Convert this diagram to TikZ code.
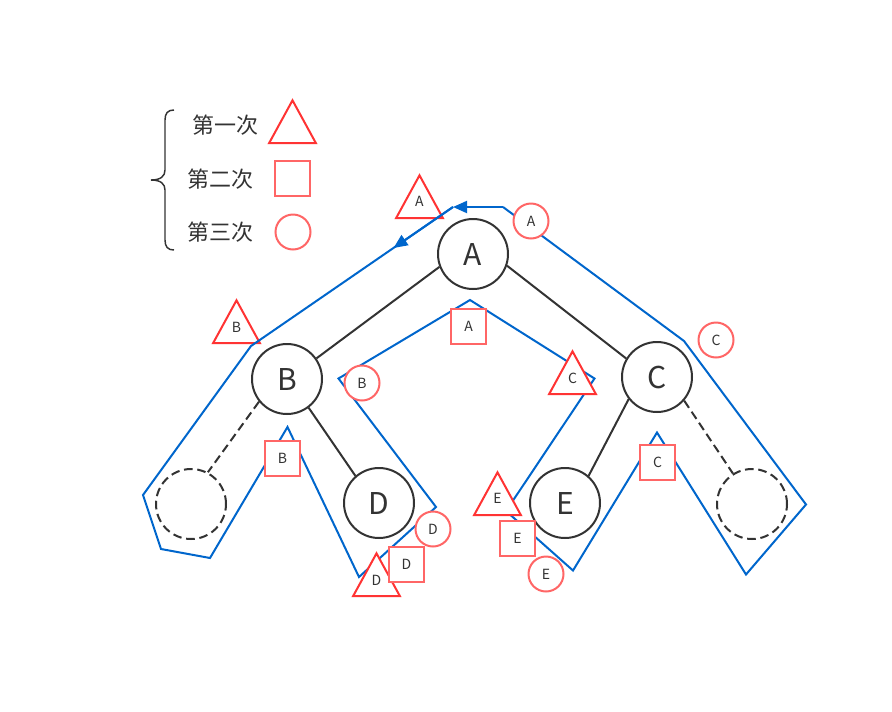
\documentclass[tikz,border=0pt]{standalone}
\usepackage{fontspec}
\setmainfont{Noto Sans CJK SC}
\usepackage{xcolor}
\usetikzlibrary{shapes.geometric, arrows.meta}
\definecolor{treegray}{HTML}{333333}
\definecolor{traceblue}{HTML}{0066CC}
\definecolor{firstred}{HTML}{FF3333}
\definecolor{laterred}{HTML}{FF6666}
\begin{document}
\begin{tikzpicture}[
    x=0.75pt, y=-0.75pt,
    treenode/.style={circle, draw=treegray, line width=1.5pt, fill=white, minimum size=52.5pt, inner sep=0pt, text=treegray, font=\fontsize{22.5}{24}\selectfont},
    nullnode/.style={treenode, dashed, dash pattern=on 6.5pt off 3.5pt},
    edge/.style={draw=treegray, line width=1.5pt},
    nulledge/.style={edge, dash pattern=on 6.5pt off 3.5pt},
    trace/.style={draw=traceblue, line width=1.5pt, line join=miter},
    tracearrow/.style={trace, -{Triangle[length=10.5pt, width=9pt]}},
    firstvisit/.style={isosceles triangle, isosceles triangle apex angle=57, isosceles triangle stretches, shape border rotate=90, draw=firstred, line width=1.5pt, fill=white, minimum width=35pt, minimum height=32pt, inner sep=0pt, anchor=lower side, text=treegray, text depth=3.5pt, font=\fontsize{10.5}{12}\selectfont},
    secondvisit/.style={rectangle, draw=laterred, line width=1.5pt, fill=white, minimum size=26.25pt, inner sep=0pt, text=treegray, font=\fontsize{10.5}{12}\selectfont},
    thirdvisit/.style={circle, draw=laterred, line width=1.5pt, fill=white, minimum size=26.25pt, inner sep=0pt, text=treegray, font=\fontsize{10.5}{12}\selectfont},
    legendtext/.style={text=treegray, font=\fontsize{16.5}{18}\selectfont}
]
\useasboundingbox (0,0) rectangle (892,711);

% Legend
\draw[treegray, line width=1.1pt] (174,110) .. controls (168,110) and (165,113) .. (165,120) -- (165,170) .. controls (165,176) and (161,180) .. (151,180) .. controls (161,180) and (165,184) .. (165,190) -- (165,240) .. controls (165,247) and (168,250) .. (174,250);
\node[legendtext] (firstlabel) at (225,125) {第一次};
\node[legendtext] (secondlabel) at (220,179) {第二次};
\node[legendtext] (thirdlabel) at (220,232) {第三次};
\node[firstvisit] (firstkey) at (292.5,144) {};
\node[secondvisit] (secondkey) at (292.5,178.5) {};
\node[thirdvisit] (thirdkey) at (293,232) {};

% First visits under the trace
\node[firstvisit] (firsta) at (419.5,219) {A};
\node[firstvisit] (firstb) at (236.5,344) {B};

% Trace corners
\coordinate (t1) at (503,207);
\coordinate (t2) at (453,207);
\coordinate (t3) at (393.5,248);
\coordinate (t4) at (251,346);
\coordinate (t5) at (143,495);
\coordinate (t6) at (161,549);
\coordinate (t7) at (210,558);
\coordinate (t8) at (287.5,427);
\coordinate (t9) at (359,577);
\coordinate (t10) at (436,507);
\coordinate (t11) at (338.5,378.5);
\coordinate (t12) at (470,300);
\coordinate (t13) at (594.5,378.5);
\coordinate (t14) at (506,511);
\coordinate (t15) at (573,570.5);
\coordinate (t16) at (657,432.5);
\coordinate (t17) at (746,574.5);
\coordinate (t18) at (806,504.5);
\coordinate (t19) at (684,341);

% Trace
\draw[trace] (t2) -- (t4) -- (t5) -- (t6) -- (t7) -- (t8) -- (t9) -- (t10) -- (t11) -- (t12) -- (t13) -- (t14) -- (t15) -- (t16) -- (t17) -- (t18) -- (t19) -- (t1);
\draw[tracearrow] (t1) -- (t2);
\draw[tracearrow] (t2) -- (t3);

% Tree
\node[treenode] (A) at (473,254) {A};
\node[treenode] (B) at (287,379) {B};
\node[treenode] (C) at (657,377) {C};
\node[treenode] (D) at (379,503) {D};
\node[treenode] (E) at (565,503) {E};
\node[nullnode] (nullb) at (191,504) {};
\node[nullnode] (nullc) at (752,504) {};

\draw[edge] (A.201) -- (B.35);
\draw[edge] (A.-19) -- (C.149);
\draw[edge] (B.-53) -- (D.131);
\draw[edge] (C.218) -- (E.49);
\draw[nulledge] (B.219) -- (nullb.62);
\draw[nulledge] (C.-41) -- (nullc.122);

% Remaining visits
\node[firstvisit] (firstc) at (572.5,395) {C};
\node[firstvisit] (firstd) at (376.5,597) {D};
\node[firstvisit] (firste) at (497.5,516) {E};
\node[secondvisit] (seconda) at (468.5,326.5) {A};
\node[secondvisit] (secondb) at (282.5,458.5) {B};
\node[secondvisit] (secondc) at (657.5,462.5) {C};
\node[secondvisit] (secondd) at (406.5,564.5) {D};
\node[secondvisit] (seconde) at (517.5,538.5) {E};
\node[thirdvisit] (thirda) at (531,221) {A};
\node[thirdvisit] (thirdb) at (362,383) {B};
\node[thirdvisit] (thirdc) at (716,340) {C};
\node[thirdvisit] (thirdd) at (433,529) {D};
\node[thirdvisit] (thirde) at (546,574) {E};

\end{tikzpicture}
\end{document}
